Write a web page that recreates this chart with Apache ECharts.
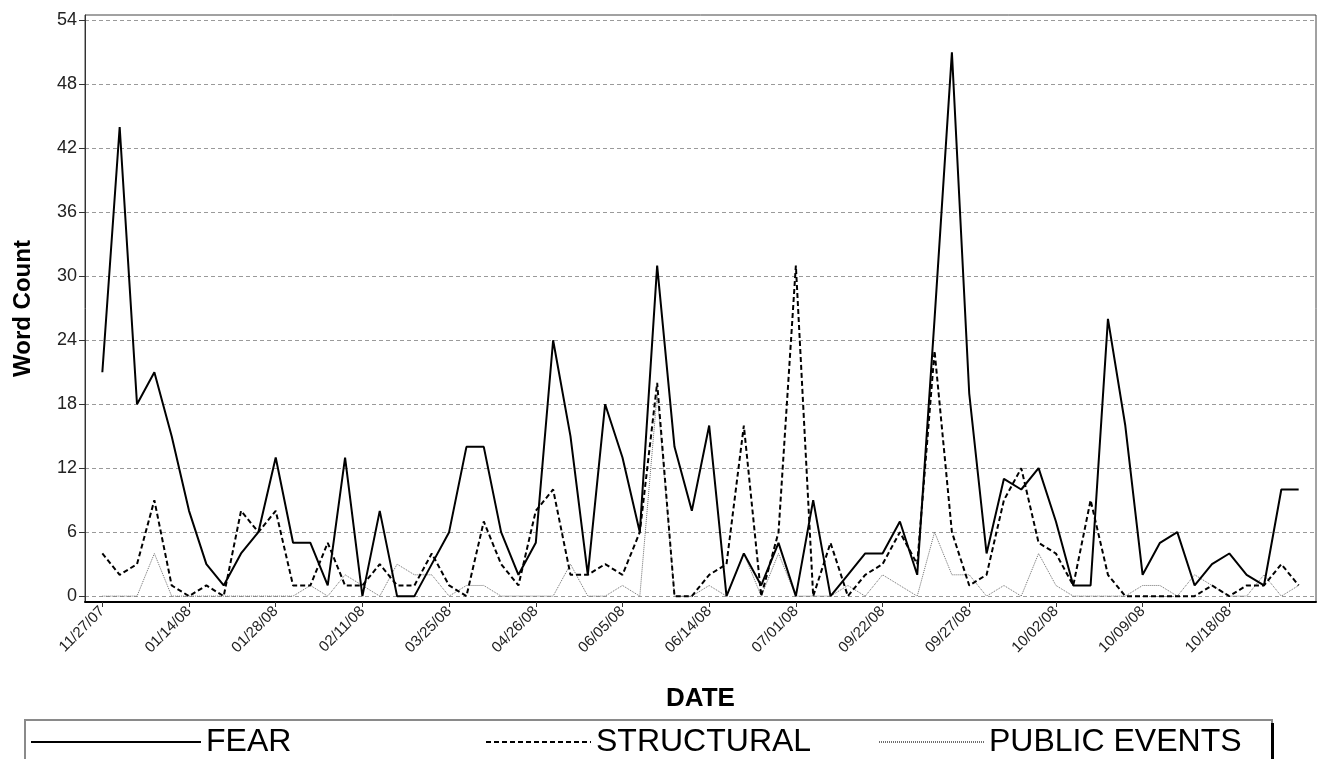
<!DOCTYPE html>
<html>
<head>
<meta charset="utf-8">
<script src="https://cdn.jsdelivr.net/npm/echarts@6/dist/echarts.min.js"></script>
<style>
html,body{margin:0;padding:0;background:#fff;}
#chart{width:1320px;height:759px;}
</style>
</head>
<body>
<div id="chart"></div>
<script>
// Tick labels shown on the date axis and the observation index where each sits
const tickLabels = ['11/27/07','01/14/08','01/28/08','02/11/08','03/25/08','04/26/08','06/05/08','06/14/08','07/01/08','09/22/08','09/27/08','10/02/08','10/09/08','10/18/08'];
const tickIndex = [0,5,10,15,20,25,30,35,40,45,50,55,60,65];
const yTicks = [0,6,12,18,24,30,36,42,48,54];

const fear = [21,44,18,21,15,8,3,1,4,6,13,5,5,1,13,0,8,0,0,3,6,14,14,6,2,5,24,15,2,18,13,6,31,14,8,16,0,4,1,5,0,9,0,2,4,4,7,2,26,51,19,4,11,10,12,7,1,1,26,16,2,5,6,1,3,4,2,1,10,10];
const structural = [4,2,3,9,1,0,1,0,8,6,8,1,1,5,1,1,3,1,1,4,1,0,7,3,1,8,10,2,2,3,2,6,20,0,0,2,3,16,0,6,31,0,5,0,2,3,6,3,23,6,1,2,9,12,5,4,1,9,2,0,0,0,0,0,1,0,1,1,3,1];
const publicEvents = [0,0,0,4,0,0,0,0,0,0,0,0,1,0,2,1,0,3,2,2,0,1,1,0,0,0,0,3,0,0,1,0,19,0,0,1,0,4,0,4,0,0,0,1,0,2,1,0,6,2,2,0,1,0,4,1,0,0,0,0,1,1,0,2,1,0,0,2,0,1];

const seriesNames = ['FEAR','STRUCTURAL','PUBLIC EVENTS'];

const toPts = arr => arr.map((v, i) => [i, v]);
const FONT = '"Liberation Sans", Arial, sans-serif';

const chart = echarts.init(document.getElementById('chart'), null, {renderer: 'canvas'});

const legendText = {fontFamily: FONT, fontSize: 32, color: '#000'};
const legendCommon = {top: 726, itemHeight: 14, itemGap: 0, padding: 0, textStyle: legendText,
                      itemStyle: {opacity: 0}, selectedMode: false};

chart.setOption({
  animation: false,
  backgroundColor: '#fff',
  grid: {
    left: 85, right: 4, top: 15, bottom: 157,
    show: true, borderColor: '#444', borderWidth: 1,
    containLabel: false, outerBoundsMode: 'none'
  },
  xAxis: {
    type: 'value',
    min: -1, max: fear.length,
    name: 'DATE',
    nameLocation: 'middle',
    nameGap: 84,
    nameTextStyle: {fontFamily: FONT, fontSize: 26, fontWeight: 'bold', color: '#000'},
    axisLine: {show: true, onZero: false, lineStyle: {color: '#000', width: 2}},
    axisTick: {show: true, length: 5, customValues: tickIndex, lineStyle: {color: '#333', width: 1}},
    axisLabel: {
      customValues: tickIndex,
      rotate: 45,
      margin: 7,
      fontFamily: FONT, fontSize: 15, color: '#222',
      formatter: v => tickLabels[tickIndex.indexOf(v)] || ''
    },
    splitLine: {show: false}
  },
  yAxis: {
    type: 'value',
    min: -0.55, max: 54.5,
    name: 'Word Count',
    nameLocation: 'middle',
    nameGap: 50,
    nameTextStyle: {fontFamily: FONT, fontSize: 24, fontWeight: 'bold', color: '#000'},
    axisLine: {show: true, onZero: false, lineStyle: {color: '#333', width: 1}},
    axisTick: {show: true, length: 6, customValues: yTicks, lineStyle: {color: '#333'}},
    axisLabel: {customValues: yTicks, margin: 8, fontFamily: FONT, fontSize: 18, color: '#222'},
    splitLine: {show: true, lineStyle: {color: '#9a9a9a', type: [4, 3], width: 1}}
  },
  legend: [
    Object.assign({data: [seriesNames[0]], left: 30, itemWidth: 170}, legendCommon),
    Object.assign({data: [seriesNames[1]], left: 485, itemWidth: 105}, legendCommon),
    Object.assign({data: [seriesNames[2]], left: 878, itemWidth: 105}, legendCommon)
  ],
  graphic: [
    {type: 'rect', silent: true, z: -1, shape: {x: 25, y: 720, width: 1247, height: 60}, style: {fill: '#fff', stroke: '#8a8a8a', lineWidth: 2}},
    {type: 'rect', silent: true, z: -1, shape: {x: 1271, y: 723, width: 3, height: 40}, style: {fill: '#000'}}
  ],
  series: [
    {name: seriesNames[0], type: 'line', data: toPts(fear), symbol: 'none', z: 4,
     lineStyle: {color: '#000', width: 2, type: 'solid'}, itemStyle: {color: '#000'}},
    {name: seriesNames[1], type: 'line', data: toPts(structural), symbol: 'none', z: 3,
     lineStyle: {color: '#000', width: 2, type: [5, 3]}, itemStyle: {color: '#000'}},
    {name: seriesNames[2], type: 'line', data: toPts(publicEvents), symbol: 'none', z: 2,
     lineStyle: {color: '#6e6e6e', width: 1, type: [1, 1]}, itemStyle: {color: '#6e6e6e'}}
  ]
});
</script>
</body>
</html>
